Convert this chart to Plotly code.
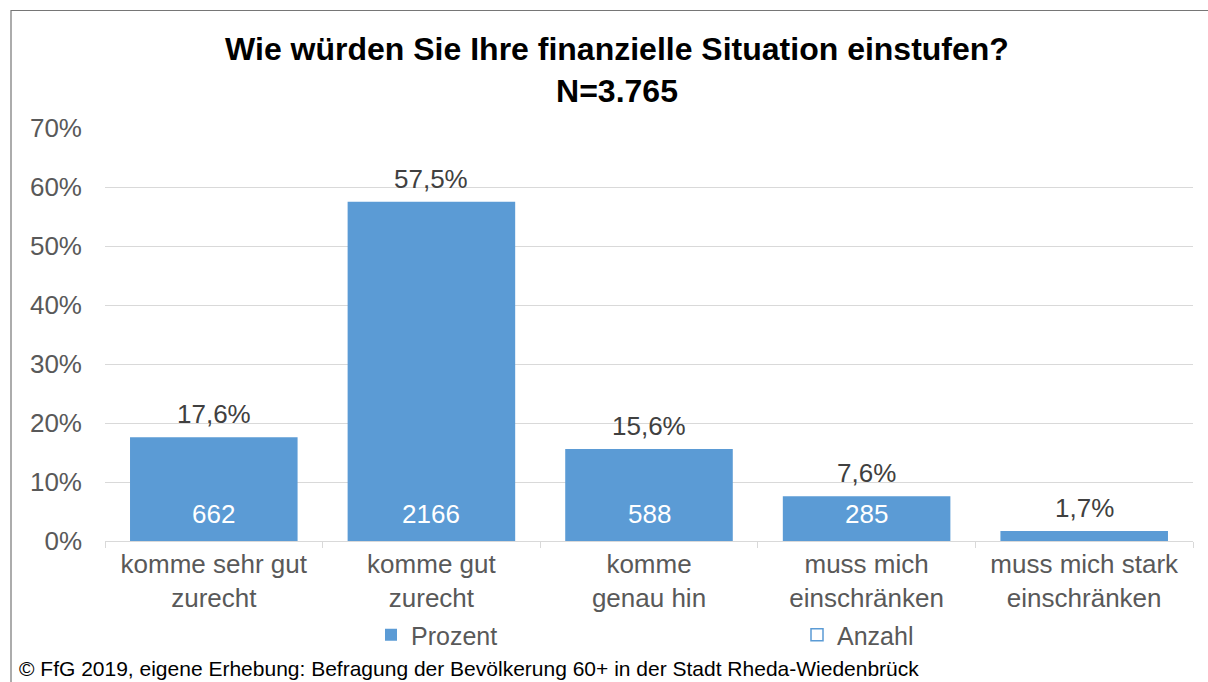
import plotly.graph_objects as go

categories = ["komme sehr gut<br>zurecht", "komme gut<br>zurecht", "komme<br>genau hin",
              "muss mich<br>einschränken", "muss mich stark<br>einschränken"]
prozent = [17.6, 57.5, 15.6, 7.6, 1.7]
anzahl = [662, 2166, 588, 285, None]
y_ticks = [0, 10, 20, 30, 40, 50, 60, 70]
y_tick_labels = ["0%", "10%", "20%", "30%", "40%", "50%", "60%", "70%"]

BLUE = "#5B9BD5"
FONT = "Arial, Liberation Sans, sans-serif"

# plot area in pixels
L, R, T, B = 105, 15, 128, 141
W, H = 1208, 682
pw, ph = W - L - R, H - T - B

def px_x(px):
    return (px - L) / pw

def px_y(py):
    return (H - B - py) / ph

fig = go.Figure()
fig.add_trace(go.Bar(x=categories, y=prozent, name="Prozent", marker=dict(color=BLUE, line=dict(width=0))))
fig.add_trace(go.Bar(x=categories, y=[None] * len(categories), name="Anzahl",
                     marker=dict(color="white", line=dict(color=BLUE, width=1.5))))

annotations = []
for c, p in zip(categories, prozent):
    annotations.append(dict(x=c, y=p, xref="x", yref="y", text=f"{p:.1f}%".replace(".", ","),
                            showarrow=False, yanchor="bottom", yshift=6,
                            font=dict(family=FONT, size=26, color="#404040")))
for c, a in zip(categories, anzahl):
    if a is not None:
        annotations.append(dict(x=c, y=0, xref="x", yref="y", text=str(a), showarrow=False,
                                yanchor="middle", yshift=27,
                                font=dict(family=FONT, size=26, color="white")))
annotations.append(dict(x=px_x(17), y=px_y(668), xref="paper", yref="paper",
                        text="© FfG 2019, eigene Erhebung: Befragung der Bevölkerung 60+ in der Stadt Rheda-Wiedenbrück",
                        showarrow=False, xanchor="left", yanchor="middle",
                        font=dict(family=FONT, size=21, color="black")))

fig.update_layout(
    width=W, height=H,
    margin=dict(l=L, r=R, t=T, b=B, autoexpand=False),
    paper_bgcolor="white", plot_bgcolor="white",
    barmode="overlay", bargap=0.23,
    font=dict(family=FONT, size=26, color="#595959"),
    title=dict(text="<b>Wie würden Sie Ihre finanzielle Situation einstufen?<br>N=3.765</b>",
               x=617 / W, xanchor="center", xref="container",
               y=1 - 60 / H, yanchor="top", yref="container",
               font=dict(family=FONT, size=32, color="black")),
    xaxis=dict(showline=True, linecolor="#d9d9d9", linewidth=1, ticks="outside", tickson="boundaries",
               ticklen=6, tickcolor="#d9d9d9", showgrid=False,
               tickfont=dict(family=FONT, size=26, color="#595959")),
    yaxis=dict(range=[0, 70], tickvals=y_ticks, ticktext=y_tick_labels, showgrid=True,
               gridcolor="#d9d9d9", gridwidth=1, zeroline=False, showline=False,
               ticks="", ticklabelstandoff=22,
               tickfont=dict(family=FONT, size=26, color="#595959")),
    legend=dict(orientation="h", x=px_x(371), xanchor="left", y=px_y(635), yanchor="middle",
                entrywidth=381, entrywidthmode="pixels", bgcolor="rgba(0,0,0,0)",
                font=dict(family=FONT, size=25, color="#595959"), traceorder="normal"),
    annotations=annotations,
    shapes=[dict(type="rect", xref="paper", yref="paper", x0=px_x(11), x1=px_x(1215),
                 y0=px_y(700), y1=px_y(10.5), line=dict(color="#767676", width=1.2),
                 fillcolor="rgba(0,0,0,0)", layer="below")],
)

fig.write_html("out.html", config={"displayModeBar": False},
               post_script="document.body.style.margin='0';")
